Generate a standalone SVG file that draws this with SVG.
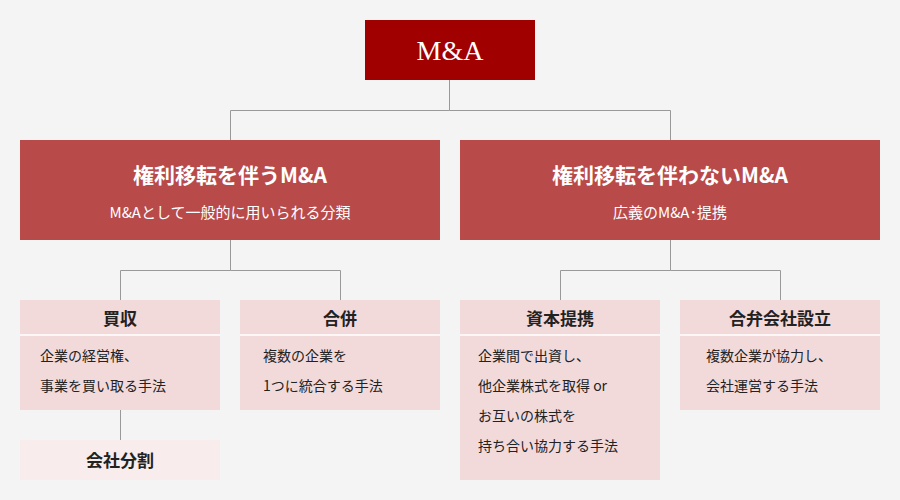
<svg xmlns="http://www.w3.org/2000/svg" width="900" height="500" viewBox="0 0 900 500">
<style>
.t{font-family:"Noto Sans CJK JP","Noto Sans",sans-serif;}
.w{fill:#fff;}
.k{fill:#222;}
.p{fill:#f2dadb;}
.m{fill:#b94a4a;}
.sep{stroke:#fff;stroke-width:1.5;}
</style>
<rect width="900" height="500" fill="#f4f4f4"/>
<g id="connectors" fill="none" stroke="#999" stroke-width="1">
<path d="M449.5 80V110.5H230.5V140M449.5 110.5H670.5V140"/>
<path d="M230.5 240V270.5H120.5V300M230.5 270.5H340.5V300"/>
<path d="M670.5 240V270.5H560.5V300M670.5 270.5H780.5V300"/>
<path d="M120.5 410V440"/>
</g>
<g id="ma"><rect x="365" y="20" width="170" height="60" fill="#a00000"/>
<text x="450" y="60" text-anchor="middle" font-family="Liberation Serif,serif" font-size="28" class="w">M&amp;A</text></g>
<g id="transfer"><rect x="20" y="140" width="420" height="100" class="m"/>
<text x="230" y="183" text-anchor="middle" class="t w" font-size="21" font-weight="bold">権利移転を伴うM&amp;A</text>
<text x="230" y="218" text-anchor="middle" class="t w" font-size="15">M&amp;Aとして一般的に用いられる分類</text></g>
<g id="notransfer"><rect x="460" y="140" width="420" height="100" class="m"/>
<text x="670" y="183" text-anchor="middle" class="t w" font-size="21" font-weight="bold">権利移転を伴わないM&amp;A</text>
<text x="670" y="218" text-anchor="middle" class="t w" font-size="15">広義のM&amp;A･提携</text></g>
<g id="kaishu"><rect x="20" y="300" width="200" height="110" class="p"/><line x1="20" y1="335" x2="220" y2="335" class="sep"/>
<text x="120" y="325" text-anchor="middle" class="t k" font-size="17" font-weight="bold">買収</text>
<text x="40" y="361" class="t k" font-size="14">企業の経営権、</text>
<text x="40" y="391" class="t k" font-size="14">事業を買い取る手法</text></g>
<g id="gappei"><rect x="240" y="300" width="200" height="110" class="p"/><line x1="240" y1="335" x2="440" y2="335" class="sep"/>
<text x="340" y="325" text-anchor="middle" class="t k" font-size="17" font-weight="bold">合併</text>
<text x="263" y="361" class="t k" font-size="14">複数の企業を</text>
<text x="263" y="391" class="t k" font-size="14">1つに統合する手法</text></g>
<g id="shihon"><rect x="460" y="300" width="200" height="180" class="p"/><line x1="460" y1="335" x2="660" y2="335" class="sep"/>
<text x="560" y="325" text-anchor="middle" class="t k" font-size="17" font-weight="bold">資本提携</text>
<text x="478" y="361" class="t k" font-size="14">企業間で出資し、</text>
<text x="478" y="391" class="t k" font-size="14">他企業株式を取得 or</text>
<text x="478" y="421" class="t k" font-size="14">お互いの株式を</text>
<text x="478" y="451" class="t k" font-size="14">持ち合い協力する手法</text></g>
<g id="goben"><rect x="680" y="300" width="200" height="110" class="p"/><line x1="680" y1="335" x2="880" y2="335" class="sep"/>
<text x="780" y="325" text-anchor="middle" class="t k" font-size="17" font-weight="bold">合弁会社設立</text>
<text x="706" y="361" class="t k" font-size="14">複数企業が協力し、</text>
<text x="706" y="391" class="t k" font-size="14">会社運営する手法</text></g>
<g id="bunkatsu"><rect x="20" y="440" width="200" height="40" fill="#f8eced"/>
<text x="120" y="467" text-anchor="middle" class="t k" font-size="17" font-weight="bold">会社分割</text></g>
</svg>
